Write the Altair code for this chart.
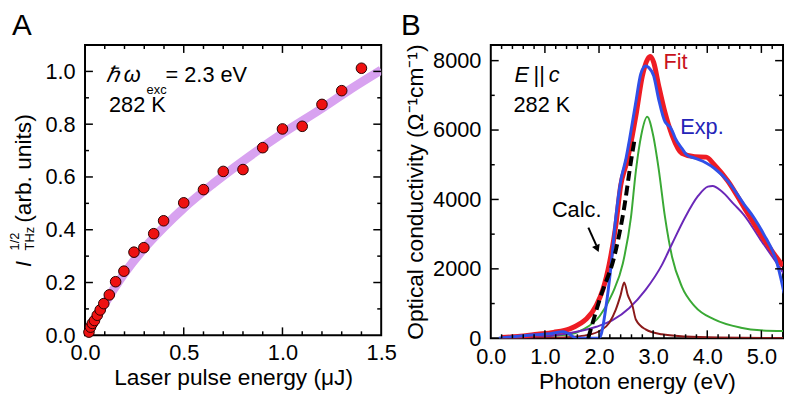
import altair as alt
import pandas as pd

FONT = "Liberation Sans"

# ---------------- Panel A : THz amplitude vs laser pulse energy ----------------
a_energy = [0.02, 0.028, 0.037, 0.048, 0.062, 0.077, 0.095, 0.123, 0.155, 0.197,
            0.248, 0.298, 0.348, 0.398, 0.50, 0.60, 0.70, 0.80, 0.90, 1.00,
            1.10, 1.20, 1.30, 1.40]
a_signal = [0.012, 0.031, 0.045, 0.056, 0.076, 0.096, 0.12, 0.153, 0.203, 0.243,
            0.315, 0.332, 0.385, 0.434, 0.502, 0.552, 0.621, 0.628, 0.711, 0.782,
            0.792, 0.875, 0.927, 1.012]
a_fit_x = [0.0, 0.02, 0.05, 0.10, 0.15, 0.20, 0.30, 0.40, 0.50, 0.65, 0.80, 1.00, 1.20, 1.35, 1.50]
a_fit_y = [0.0, 0.025, 0.062, 0.12, 0.18, 0.235, 0.33, 0.41, 0.482, 0.575, 0.66, 0.765, 0.86, 0.935, 1.005]

a_xticks_major = [0.5, 1.0]
a_xticks_minor = [0.1, 0.2, 0.3, 0.4, 0.6, 0.7, 0.8, 0.9, 1.1, 1.2, 1.3, 1.4]
a_yticks_major = [0.2, 0.4, 0.6, 0.8, 1.0]
a_yticks_minor = [0.1, 0.3, 0.5, 0.7, 0.9]
a_xlabels = [0.0, 0.5, 1.0, 1.5]
a_ylabels = [0.0, 0.2, 0.4, 0.6, 0.8, 1.0]

# ---------------- Panel B : optical conductivity spectra ----------------
fit_E = [0.2, 0.5, 0.86, 1.16, 1.46, 1.65, 1.77, 1.95, 2.07, 2.19, 2.31, 2.40, 2.50, 2.56,
         2.68, 2.80, 2.90, 2.95, 3.01, 3.10, 3.22, 3.35, 3.53, 3.77, 3.98, 4.13, 4.38,
         4.68, 4.98, 5.23, 5.40]
fit_S = [20, 50, 114, 170, 270, 420, 560, 950, 1400, 2150, 3250, 4400, 5000, 5400,
         6400, 7550, 8050, 8120, 7950, 7300, 6500, 5850, 5330, 5230, 5220, 5000, 4530,
         3770, 3010, 2440, 2080]

exp_E = [0.15, 0.5, 0.8, 1.1, 1.34, 1.45, 1.58, 2.0, 2.04, 2.13, 2.22, 2.31, 2.40, 2.50,
         2.56, 2.68, 2.77, 2.86, 2.92, 3.01, 3.10, 3.22, 3.27, 3.31, 3.36, 3.41, 3.53,
         3.62, 3.77, 3.98, 4.13, 4.38, 4.68, 4.86, 5.04, 5.29, 5.38, 5.42]
exp_S = [0, 60, 100, 130, 190, 120, 0, 0, 114, 920, 2058, 3482, 4527, 5190,
         5700, 6806, 7612, 7848, 7800, 7564, 6900, 6237, 6150, 6100, 5950, 5760, 5475,
         5285, 5190, 5050, 4900, 4527, 3860, 3480, 3009, 2155, 1585, 1300]

green_E = [0.15, 1.0, 1.46, 1.71, 2.01, 2.25, 2.44, 2.59, 2.68, 2.78, 2.89, 3.00, 3.10,
           3.22, 3.35, 3.53, 3.77, 4.13, 4.62, 4.98, 5.41]
green_S = [0, 60, 114, 256, 635, 1300, 2155, 3482, 4811, 5850, 6380, 5850, 4905,
           3482, 2343, 1490, 920, 541, 304, 228, 208]

purple_E = [0.15, 0.8, 1.34, 1.95, 2.25, 2.56, 2.86, 3.16, 3.35, 3.59, 3.83, 4.01, 4.10,
            4.26, 4.50, 4.68, 4.98, 5.29, 5.44]
purple_S = [0, 20, 120, 330, 520, 873, 1395, 2107, 2724, 3482, 4100, 4370, 4390,
            4242, 3850, 3550, 2850, 2150, 1800]

brown_E = [0.2, 1.2, 1.5, 1.77, 2.01, 2.19, 2.31, 2.40, 2.465, 2.53, 2.62, 2.68, 2.86,
           3.16, 3.6, 4.2, 5.4]
brown_S = [0, 15, 40, 90, 208, 446, 826, 1250, 1610, 1250, 920, 541, 256,
           114, 50, 20, 5]

calc_E = [1.80, 2.01, 2.31, 2.465, 2.59, 2.65]
calc_S = [0, 1110, 2534, 3766, 5096, 5665]

b_xticks_major = [1, 2, 3, 4, 5]
b_xticks_minor = [0.2, 0.4, 0.6, 0.8, 1.2, 1.4, 1.6, 1.8, 2.2, 2.4, 2.6, 2.8, 3.2, 3.4,
                  3.6, 3.8, 4.2, 4.4, 4.6, 4.8, 5.2]
b_yticks_major = [2000, 4000, 6000, 8000]
b_yticks_minor = [1000, 3000, 5000, 7000]
b_xlabels = [0, 1, 2, 3, 4, 5]
b_ylabels = [0, 2000, 4000, 6000, 8000]

WA, HA = 300, 294
WB, HB = 296, 297


def tick_layers(sx, sy, ax, ay, xmaj, xmin, ymaj, ymin, W, H):
    out = []
    for vals, L in ((ymaj, 8), (ymin, 4)):
        base = alt.Chart(pd.DataFrame({"v": vals})).mark_rule(color="black", strokeWidth=1.5)
        yenc = alt.Y("v:Q", scale=sy, axis=ay)
        out.append(base.encode(y=yenc, x=alt.value(0), x2=alt.value(L)))
        out.append(base.encode(y=yenc, x=alt.value(W), x2=alt.value(W - L)))
    for vals, L in ((xmaj, 8), (xmin, 4)):
        base = alt.Chart(pd.DataFrame({"v": vals})).mark_rule(color="black", strokeWidth=1.5)
        xenc = alt.X("v:Q", scale=sx, axis=ax)
        out.append(base.encode(x=xenc, y=alt.value(0), y2=alt.value(L)))
        out.append(base.encode(x=xenc, y=alt.value(H), y2=alt.value(H - L)))
    return out


def data_text(xs, ys, ts, sx, sy, ax, ay, **kw):
    df = pd.DataFrame({"x": xs, "y": ys, "t": ts})
    return alt.Chart(df).mark_text(align="left", baseline="alphabetic", font=FONT, **kw).encode(
        x=alt.X("x:Q", scale=sx, axis=ax),
        y=alt.Y("y:Q", scale=sy, axis=ay),
        text="t:N",
    )


def pixel_text(t, px, py, **kw):
    return alt.Chart(pd.DataFrame({"t": [t]})).mark_text(
        align="left", baseline="alphabetic", font=FONT, color="black", **kw
    ).encode(x=alt.value(px), y=alt.value(py), text="t:N")


# ---------- Panel A ----------
sxA = alt.Scale(domain=[0, 1.5], nice=False, zero=False)
syA = alt.Scale(domain=[0, 1.1], nice=False, zero=False)
axA_x = alt.Axis(values=a_xlabels, format=".1f", title="Laser pulse energy (μJ)",
                 labelFlush=False, labelPadding=8, titlePadding=3)
axA_y = alt.Axis(values=a_ylabels, format=".1f", title="", labelPadding=10)

fitA = alt.Chart(pd.DataFrame({"x": a_fit_x, "y": a_fit_y})).mark_line(
    color="#d8a2f0", strokeWidth=9, interpolate="monotone", clip=True
).encode(x=alt.X("x:Q", scale=sxA, axis=axA_x), y=alt.Y("y:Q", scale=syA, axis=axA_y))

ptsA = alt.Chart(pd.DataFrame({"x": a_energy, "y": a_signal})).mark_circle(
    size=115, color="#ee1111", opacity=1, stroke="#2a0000", strokeWidth=1
).encode(x=alt.X("x:Q", scale=sxA, axis=axA_x), y=alt.Y("y:Q", scale=syA, axis=axA_y))

textsA = [
    data_text([0.105], [0.959], ["ℏ"], sxA, syA, axA_x, axA_y, fontSize=22, fontStyle="italic", color="black"),
    data_text([0.196], [0.959], ["ω"], sxA, syA, axA_x, axA_y, fontSize=22, fontStyle="italic", color="black"),
    data_text([0.312], [0.9126], ["exc"], sxA, syA, axA_x, axA_y, fontSize=13, color="black"),
    data_text([0.408], [0.959], ["= 2.3 eV"], sxA, syA, axA_x, axA_y, fontSize=22, color="black"),
    data_text([0.1215], [0.846], ["282 K"], sxA, syA, axA_x, axA_y, fontSize=22, color="black"),
    pixel_text("A", -74, -10, fontSize=30),
    pixel_text("I", -55, 225, fontSize=23, fontStyle="italic", angle=270),
    pixel_text("1/2", -67, 208, fontSize=13, angle=270),
    pixel_text("THz", -52, 208, fontSize=13, angle=270),
    pixel_text("(arb. units)", -55, 180, fontSize=23, angle=270),
]

panelA = alt.layer(
    fitA, ptsA, *tick_layers(sxA, syA, axA_x, axA_y, a_xticks_major, a_xticks_minor,
                             a_yticks_major, a_yticks_minor, WA, HA), *textsA
).properties(width=WA, height=HA)

# ---------- Panel B ----------
sxB = alt.Scale(domain=[0, 5.4], nice=False, zero=False)
syB = alt.Scale(domain=[0, 8450], nice=False, zero=False)
axB_x = alt.Axis(values=b_xlabels, format=".1f", title="Photon energy (eV)",
                 labelFlush=False, labelPadding=9, titlePadding=3)
axB_y = alt.Axis(values=b_ylabels, format="d", title="Optical conductivity (Ω⁻¹cm⁻¹)",
                 labelPadding=10, titlePadding=5)


def curve(E, S, color, width, **kw):
    return alt.Chart(pd.DataFrame({"x": E, "y": S})).mark_line(
        color=color, strokeWidth=width, interpolate="monotone", clip=True, **kw
    ).encode(
        x=alt.X("x:Q", scale=sxB, axis=axB_x),
        y=alt.Y("y:Q", scale=syB, axis=axB_y),
    )


curvesB = [
    curve(green_E, green_S, "#3aa935", 2),
    curve(purple_E, purple_S, "#6a28b8", 2),
    curve(brown_E, brown_S, "#8b1a1a", 2),
    curve(fit_E, fit_S, "#ee1c24", 5),
    curve(exp_E, exp_S, "#3050e8", 3),
    curve(calc_E, calc_S, "black", 4, strokeDash=[10, 5]),
]

arrow_x1 = [1.803]
arrow_y1 = [3189]
arrow_x2 = [1.95]
arrow_y2 = [2676]
arrow_tip_x = [1.967]
arrow_tip_y = [2580]

arrowB = alt.Chart(pd.DataFrame({"x": arrow_x1, "y": arrow_y1, "x2": arrow_x2, "y2": arrow_y2})).mark_rule(
    color="black", strokeWidth=2
).encode(x=alt.X("x:Q", scale=sxB, axis=axB_x), y=alt.Y("y:Q", scale=syB, axis=axB_y),
         x2="x2:Q", y2="y2:Q")
headB = alt.Chart(pd.DataFrame({"x": arrow_tip_x, "y": arrow_tip_y})).mark_point(
    shape="triangle-up", filled=True, color="black", size=70, angle=157, opacity=1
).encode(x=alt.X("x:Q", scale=sxB, axis=axB_x), y=alt.Y("y:Q", scale=syB, axis=axB_y))

textsB = [
    data_text([0.437], [7374], ["E"], sxB, syB, axB_x, axB_y, fontSize=22, fontStyle="italic", color="black"),
    data_text([0.79], [7374], ["||"], sxB, syB, axB_x, axB_y, fontSize=22, color="black"),
    data_text([1.07], [7374], ["c"], sxB, syB, axB_x, axB_y, fontSize=22, fontStyle="italic", color="black"),
    data_text([0.42], [6520], ["282 K"], sxB, syB, axB_x, axB_y, fontSize=22, color="black"),
    data_text([3.19], [7772], ["Fit"], sxB, syB, axB_x, axB_y, fontSize=22, color="#c8121c"),
    data_text([3.50], [5893], ["Exp."], sxB, syB, axB_x, axB_y, fontSize=22, color="#2424b8"),
    data_text([1.13], [3482], ["Calc."], sxB, syB, axB_x, axB_y, fontSize=22, color="black"),
    pixel_text("B", -91, -10, fontSize=30),
]

panelB = alt.layer(
    *curvesB, arrowB, headB,
    *tick_layers(sxB, syB, axB_x, axB_y, b_xticks_major, b_xticks_minor, b_yticks_major, b_yticks_minor, WB, HB),
    *textsB
).properties(width=WB, height=HB)

chart = alt.hconcat(panelA, panelB, spacing=2).properties(padding=0).configure_view(
    stroke="black", strokeWidth=2
).configure_axis(
    labelFont=FONT, titleFont=FONT, labelFontSize=22, titleFontSize=23,
    labelColor="black", titleColor="black", titleFontWeight="normal",
    grid=False, domain=False, ticks=False, tickSize=0
)

chart.save("out.html", embed_options={"renderer": "svg", "actions": False})
